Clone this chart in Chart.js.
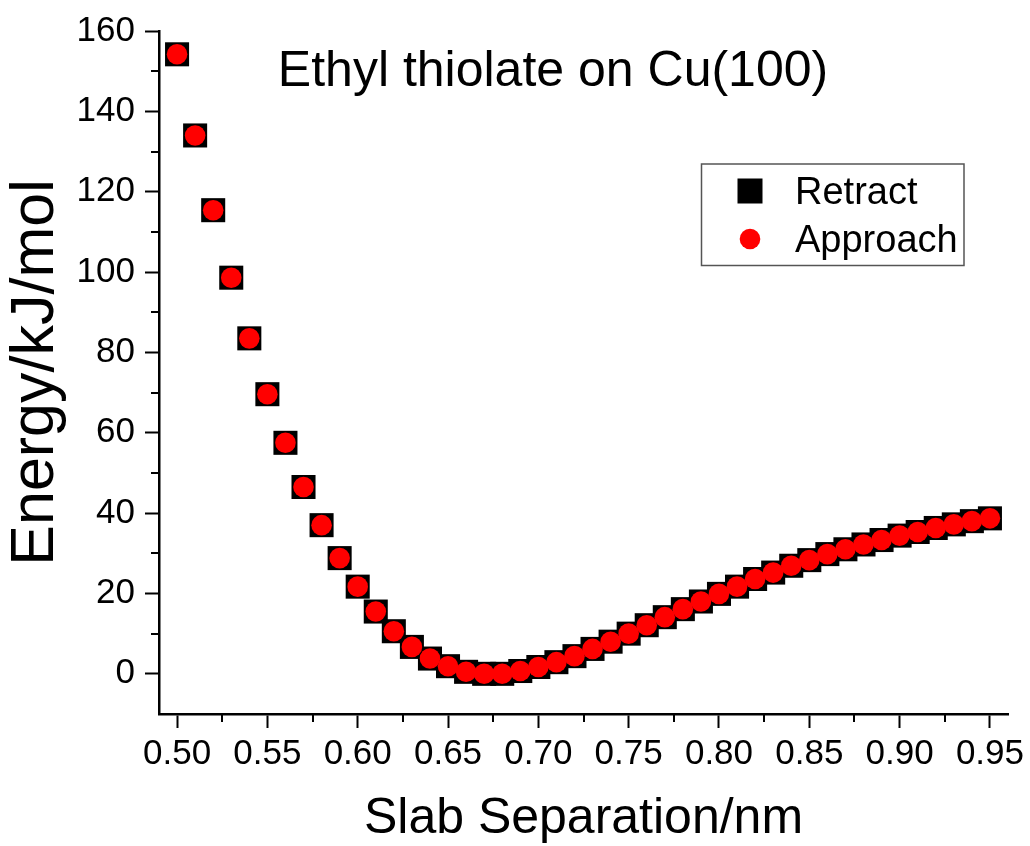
<!DOCTYPE html>
<html>
<head>
<meta charset="utf-8">
<script src="https://cdn.jsdelivr.net/npm/chart.js@4.4.0/dist/chart.umd.min.js"></script>
<style>
  html, body { margin: 0; padding: 0; background: #fff; }
</style>
</head>
<body>
<canvas id="energyChart" width="1030" height="846"></canvas>
<script>
// slab separation (nm)
var separation = [0.50, 0.51, 0.52, 0.53, 0.54, 0.55, 0.56, 0.57, 0.58, 0.59,
                  0.60, 0.61, 0.62, 0.63, 0.64, 0.65, 0.66, 0.67, 0.68, 0.69,
                  0.70, 0.71, 0.72, 0.73, 0.74, 0.75, 0.76, 0.77, 0.78, 0.79,
                  0.80, 0.81, 0.82, 0.83, 0.84, 0.85, 0.86, 0.87, 0.88, 0.89,
                  0.90, 0.91, 0.92, 0.93, 0.94, 0.95];

// energy (kJ/mol)
var retract = [154.2, 134.0, 115.4, 98.6, 83.5, 69.6, 57.5, 46.5, 37.0, 28.8,
               21.7, 15.5, 10.6, 6.7, 3.8, 1.9, 0.5, 0.0, 0.0, 0.7,
               1.7, 2.9, 4.4, 6.2, 8.0, 10.0, 12.1, 14.1, 16.1, 18.0,
               19.9, 21.7, 23.6, 25.2, 26.9, 28.3, 29.8, 31.0, 32.2, 33.3,
               34.4, 35.3, 36.3, 37.2, 38.0, 38.7];

var approach = [154.2, 134.0, 115.4, 98.6, 83.5, 69.6, 57.5, 46.5, 37.0, 28.8,
                21.7, 15.5, 10.6, 6.7, 3.8, 1.9, 0.5, 0.0, 0.0, 0.7,
                1.7, 2.9, 4.4, 6.2, 8.0, 10.0, 12.1, 14.1, 16.1, 18.0,
                19.9, 21.7, 23.6, 25.2, 26.9, 28.3, 29.8, 31.0, 32.2, 33.3,
                34.4, 35.3, 36.3, 37.2, 38.0, 38.7];

var xTicks = [0.50, 0.55, 0.60, 0.65, 0.70, 0.75, 0.80, 0.85, 0.90, 0.95];
var xMinor = [0.525, 0.575, 0.625, 0.675, 0.725, 0.775, 0.825, 0.875, 0.925];
var yTicks = [0, 20, 40, 60, 80, 100, 120, 140, 160];
var yMinor = [10, 30, 50, 70, 90, 110, 130, 150];

var fontFam = "'Liberation Sans', Arial, sans-serif";

function toPoints(xs, ys) {
  var pts = [];
  for (var i = 0; i < xs.length; i++) {
    pts.push({x: xs[i], y: ys[i]});
  }
  return pts;
}

// minor ticks, title and the boxed legend
var extras = {
  id: 'extras',
  afterDraw: function(chart) {
    var ctx = chart.ctx;
    var sx = chart.scales.x, sy = chart.scales.y;
    ctx.save();
    ctx.strokeStyle = '#000';
    ctx.lineWidth = 2;
    xMinor.forEach(function(v) {
      var px = Math.round(sx.getPixelForValue(v));
      ctx.beginPath();
      ctx.moveTo(px, sx.top);
      ctx.lineTo(px, sx.top + 8);
      ctx.stroke();
    });
    yMinor.forEach(function(v) {
      var py = Math.round(sy.getPixelForValue(v));
      ctx.beginPath();
      ctx.moveTo(sy.right, py);
      ctx.lineTo(sy.right - 8, py);
      ctx.stroke();
    });

    // title
    ctx.fillStyle = '#000';
    ctx.font = '50px ' + fontFam;
    ctx.textAlign = 'center';
    ctx.textBaseline = 'alphabetic';
    ctx.fillText('Ethyl thiolate on Cu(100)', 553, 86);

    // legend
    ctx.strokeStyle = '#555';
    ctx.lineWidth = 1.5;
    ctx.strokeRect(701.5, 164, 262.5, 101.5);
    ctx.fillStyle = '#000';
    ctx.fillRect(737.5, 178.5, 25, 25);
    ctx.fillStyle = '#ff0000';
    ctx.beginPath();
    ctx.arc(750, 239, 10.3, 0, Math.PI * 2);
    ctx.fill();
    ctx.fillStyle = '#000';
    ctx.font = '38px ' + fontFam;
    ctx.textAlign = 'left';
    ctx.fillText('Retract', 795, 204);
    ctx.fillText('Approach', 795, 252);
    ctx.restore();
  }
};

var ctx = document.getElementById('energyChart');
var energyChart = new Chart(ctx, {
  type: 'scatter',
  data: {
    datasets: [{
      label: 'Retract',
      data: toPoints(separation, retract),
      pointStyle: 'rect',
      pointRadius: 17,
      pointHoverRadius: 17,
      backgroundColor: '#000',
      borderColor: '#000',
      borderWidth: 0,
      order: 2
    }, {
      label: 'Approach',
      data: toPoints(separation, approach),
      pointStyle: 'circle',
      pointRadius: 10.3,
      pointHoverRadius: 10.3,
      backgroundColor: '#ff0000',
      borderColor: '#ff0000',
      borderWidth: 0,
      order: 1
    }]
  },
  options: {
    responsive: false,
    animation: false,
    devicePixelRatio: 1,
    clip: false,
    layout: {
      padding: {top: 29, right: 22, left: 0, bottom: 0}
    },
    plugins: {
      legend: {display: false},
      tooltip: {enabled: false}
    },
    scales: {
      x: {
        type: 'linear',
        min: 0.49,
        max: 0.96,
        afterBuildTicks: function(s) {
          s.ticks = xTicks.map(function(v) { return {value: v}; });
        },
        afterFit: function(s) { s.height = 132; },
        ticks: {
          autoSkip: false,
          maxRotation: 0,
          padding: 5,
          color: '#000',
          font: {size: 35, family: fontFam},
          callback: function(v) { return v.toFixed(2); }
        },
        grid: {
          drawOnChartArea: false,
          tickLength: 14,
          tickWidth: 2,
          tickColor: '#000'
        },
        border: {color: '#000', width: 2.5},
        title: {
          display: true,
          text: 'Slab Separation/nm',
          color: '#000',
          font: {size: 50, family: fontFam, lineHeight: 1},
          padding: {top: 0, bottom: 2}
        }
      },
      y: {
        min: -10,
        max: 160,
        afterBuildTicks: function(s) {
          s.ticks = yTicks.map(function(v) { return {value: v}; });
        },
        afterFit: function(s) { s.width = 159; },
        ticks: {
          padding: 10,
          color: '#000',
          font: {size: 35, family: fontFam}
        },
        grid: {
          drawOnChartArea: false,
          tickLength: 14,
          tickWidth: 2,
          tickColor: '#000'
        },
        border: {color: '#000', width: 2.5},
        title: {
          display: true,
          text: 'Energy/kJ/mol',
          color: '#000',
          font: {size: 61, family: fontFam, lineHeight: 1.2},
          padding: {top: 0, bottom: 0}
        }
      }
    }
  },
  plugins: [extras]
});
</script>
</body>
</html>
